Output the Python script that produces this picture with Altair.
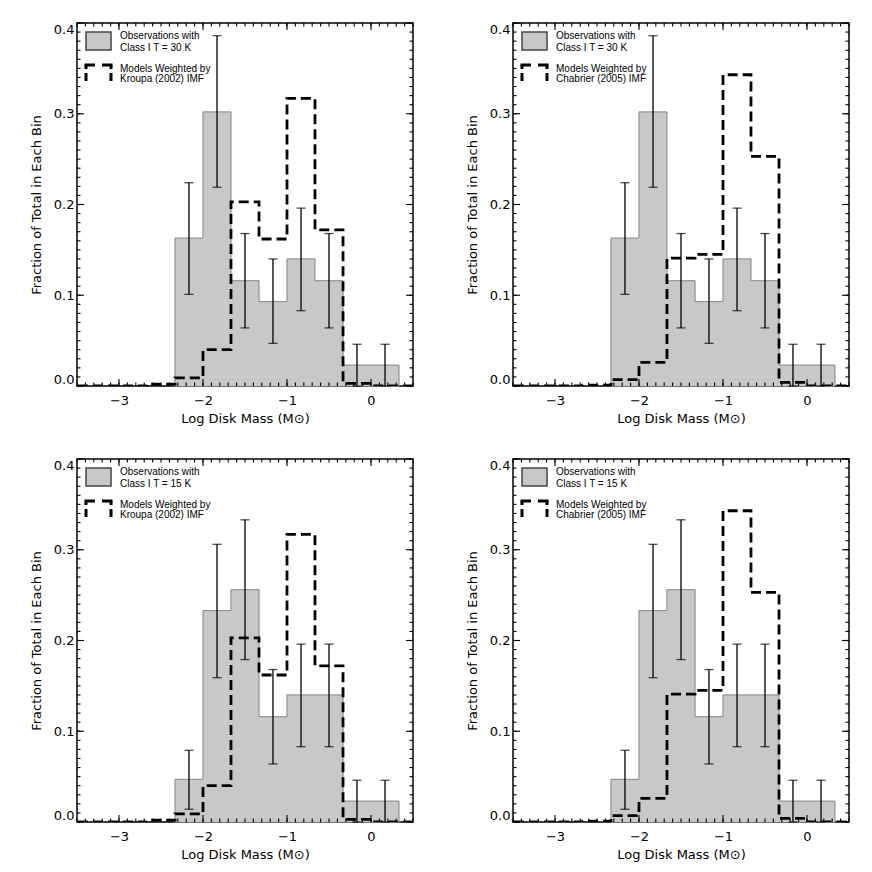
import altair as alt
import pandas as pd

# ---------------- data ----------------
OBS_EDGES = [-2.333, -2.0, -1.667, -1.333, -1.0, -0.667, -0.333, 0.0, 0.333]
OBS_CENTERS = [-2.167, -1.833, -1.5, -1.167, -0.833, -0.5, -0.167, 0.167]

OBS_30K = [0.163, 0.302, 0.116, 0.093, 0.140, 0.116, 0.023, 0.023]
LO_30K = [0.101, 0.219, 0.064, 0.047, 0.083, 0.064, 0.000, 0.000]
HI_30K = [0.224, 0.386, 0.168, 0.140, 0.196, 0.168, 0.046, 0.046]

OBS_15K = [0.047, 0.233, 0.256, 0.116, 0.140, 0.140, 0.023, 0.023]
LO_15K = [0.014, 0.159, 0.179, 0.064, 0.083, 0.083, 0.000, 0.000]
HI_15K = [0.079, 0.306, 0.333, 0.168, 0.196, 0.196, 0.046, 0.046]

MODEL_EDGES = [-3.667, -3.333, -3.0, -2.667, -2.333, -2.0, -1.667, -1.333,
               -1.0, -0.667, -0.333, 0.0, 0.333, 0.667]
KROUPA = [0.0, 0.0, 0.0, 0.002, 0.009, 0.040, 0.203, 0.162, 0.317, 0.172, 0.003, 0.0, 0.0]
CHABRIER = [0.0, 0.0, 0.0, 0.001, 0.007, 0.026, 0.141, 0.145, 0.343, 0.253, 0.004, 0.0, 0.0]

X_MAJOR = [-3, -2, -1, 0]
Y_MAJOR = [0.0, 0.1, 0.2, 0.3, 0.4]

X_DOMAIN = [-3.5, 0.5]
Y_DOMAIN = [0.0, 0.4]

W, H = 336, 363
FONT = "DejaVu Sans"
LFONT = "Liberation Sans"
GRAY = "#c8c8c8"

xs = alt.Scale(domain=X_DOMAIN, nice=False, zero=False)
ys = alt.Scale(domain=Y_DOMAIN, nice=False, zero=False)
ONE = alt.Data(values=[{"a": 1}])

XTITLE = "Log Disk Mass (M⊙)"
YTITLE = "Fraction of Total in Each Bin"

AX_X = alt.Axis(
    values=X_MAJOR, ticks=False, domain=False, grid=False,
    labelFont=FONT, labelFontSize=13, labelPadding=8, labelColor="black",
    title=XTITLE, titleFont=FONT, titleFontSize=13,
    titleFontWeight="normal", titlePadding=5, titleColor="black")
AX_Y = alt.Axis(
    values=Y_MAJOR, format=".1f", ticks=False, domain=False, grid=False,
    labelFlush=True, labelFont=FONT, labelFontSize=13, labelPadding=3,
    labelColor="black",
    title=YTITLE, titleFont=FONT, titleFontSize=13,
    titleFontWeight="normal", titlePadding=10, titleColor="black")


def X(f):
    return alt.X(f, scale=xs, axis=AX_X, title=XTITLE)


def Y(f):
    return alt.Y(f, scale=ys, axis=AX_Y, title=YTITLE)


def panel(obs, lo, hi, model, t_text, imf_text):
    bars = pd.DataFrame({"x": OBS_EDGES[:-1], "x2": OBS_EDGES[1:], "y": obs})
    outline = pd.DataFrame({
        "x": [OBS_EDGES[0]] + OBS_EDGES[:-1] + [OBS_EDGES[-1], OBS_EDGES[-1]],
        "y": [0.0] + obs + [obs[-1], 0.0],
    })
    outline["i"] = range(len(outline))
    err = pd.DataFrame({"x": OBS_CENTERS, "lo": lo, "hi": hi})
    mod = pd.DataFrame({"x": MODEL_EDGES, "y": model + [model[-1]]})
    mod["i"] = range(len(mod))

    fill = alt.Chart(bars).mark_rect(color=GRAY, stroke=GRAY, strokeWidth=0.7).encode(
        x=X("x:Q"), x2="x2:Q", y=Y("y:Q"), y2=alt.datum(0))
    edge = alt.Chart(outline).mark_line(
        color="#8a8a8a", strokeWidth=1, interpolate="step-after").encode(
        x=X("x:Q"), y=Y("y:Q"), order="i:Q")
    model_line = alt.Chart(mod).mark_line(
        color="black", strokeWidth=2.8, strokeDash=[10, 5],
        interpolate="step-after", clip=True).encode(
        x=X("x:Q"), y=Y("y:Q"), order="i:Q")
    ebar = alt.Chart(err).mark_rule(color="black", strokeWidth=1.3).encode(
        x=X("x:Q"), y=Y("lo:Q"), y2="hi:Q")
    cap_hi = alt.Chart(err).mark_tick(
        color="black", orient="horizontal", size=9, thickness=1.3).encode(
        x=X("x:Q"), y=Y("hi:Q"))
    cap_lo = alt.Chart(err).mark_tick(
        color="black", orient="horizontal", size=9, thickness=1.3).encode(
        x=X("x:Q"), y=Y("lo:Q"))

    # inward tick marks on all four sides
    def src(values):
        return alt.Data(values=[{"v": v} for v in values]) if isinstance(values, list) else values

    def xticks(values, length):
        s = src(values)
        b = alt.Chart(s).mark_rule(color="black", strokeWidth=1.1).encode(
            x=X("v:Q"), y=alt.value(H), y2=alt.value(H - length))
        t = alt.Chart(s).mark_rule(color="black", strokeWidth=1.1).encode(
            x=X("v:Q"), y=alt.value(0), y2=alt.value(length))
        return [b, t]

    def yticks(values, length):
        s = src(values)
        l = alt.Chart(s).mark_rule(color="black", strokeWidth=1.1).encode(
            y=Y("v:Q"), x=alt.value(0), x2=alt.value(length))
        r = alt.Chart(s).mark_rule(color="black", strokeWidth=1.1).encode(
            y=Y("v:Q"), x=alt.value(W), x2=alt.value(W - length))
        return [l, r]

    ticks = (xticks(X_MAJOR, 7)
             + xticks(alt.sequence(start=-3.5, stop=0.55, step=0.1, as_="v"), 3.5)
             + yticks(Y_MAJOR, 7)
             + yticks(alt.sequence(start=0.0, stop=0.405, step=0.01, as_="v"), 3.5))

    # legend
    box = alt.Chart(ONE).mark_rect(fill=GRAY, stroke="#444", strokeWidth=1.5).encode(
        x=alt.value(9), x2=alt.value(34), y=alt.value(9), y2=alt.value(27))
    seg_kw = dict(color="black", strokeWidth=3, strokeCap="butt")

    def seg(x1, x2, y1, y2):
        return alt.Chart(ONE).mark_rule(**seg_kw).encode(
            x=alt.value(x1), x2=alt.value(x2), y=alt.value(y1), y2=alt.value(y2))

    dashed_sym = [
        seg(7.5, 18, 42, 42), seg(9, 9, 42, 46),
        seg(25, 35.5, 42, 42), seg(34, 34, 42, 46),
        seg(9, 9, 50, 58), seg(34, 34, 50, 58),
    ]

    def txt(s, y):
        return alt.Chart(ONE).mark_text(
            text=s, align="left", baseline="middle", font=LFONT, fontSize=10,
            color="black").encode(x=alt.value(43), y=alt.value(y))

    legend = [box, *dashed_sym,
              txt("Observations with", 13), txt(t_text, 24.5),
              txt("Models Weighted by", 45.5), txt(imf_text, 56)]

    return alt.layer(fill, edge, ebar, cap_hi, cap_lo, model_line, *ticks, *legend).properties(
        width=W, height=H)


p1 = panel(OBS_30K, LO_30K, HI_30K, KROUPA, "Class I T = 30 K", "Kroupa (2002) IMF")
p2 = panel(OBS_30K, LO_30K, HI_30K, CHABRIER, "Class I T = 30 K", "Chabrier (2005) IMF")
p3 = panel(OBS_15K, LO_15K, HI_15K, KROUPA, "Class I T = 15 K", "Kroupa (2002) IMF")
p4 = panel(OBS_15K, LO_15K, HI_15K, CHABRIER, "Class I T = 15 K", "Chabrier (2005) IMF")

chart = alt.vconcat(
    alt.hconcat(p1, p2, spacing=50),
    alt.hconcat(p3, p4, spacing=50),
    spacing=31,
).properties(
    padding={"left": 21, "top": 13, "right": 5, "bottom": 5},
    background="white",
).configure_view(stroke="black", strokeWidth=1.5)

chart.save("out.html", embed_options={"renderer": "svg", "actions": False})
